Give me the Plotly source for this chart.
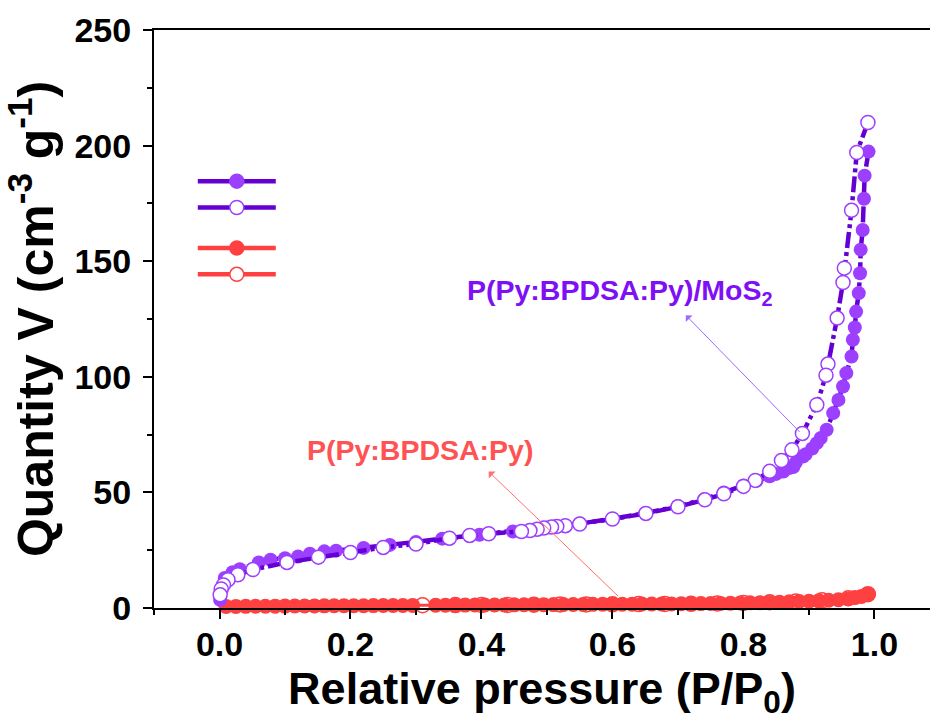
import plotly.graph_objects as go

# ---------------- data ----------------
# P(Py:BPDSA:Py)/MoS2 adsorption (filled)
mos2_ads_p = [0.001, 0.004, 0.008, 0.02, 0.031, 0.06, 0.078, 0.10, 0.12, 0.138, 0.16, 0.178,
              0.22, 0.26, 0.30, 0.34, 0.397, 0.448, 0.50, 0.55, 0.60, 0.65, 0.70, 0.74, 0.77,
              0.80, 0.82, 0.84, 0.85, 0.861, 0.87, 0.876, 0.88, 0.891, 0.895, 0.905, 0.912,
              0.918, 0.927, 0.937, 0.945, 0.952, 0.957, 0.965, 0.967, 0.970, 0.972, 0.976,
              0.978, 0.979, 0.982, 0.984, 0.985, 0.991]
mos2_ads_v = [3.5, 9.0, 13.0, 15.5, 16.8, 19.7, 20.9, 21.5, 22.3, 23.5, 24.5, 24.8,
              26.0, 27.3, 28.6, 30.0, 31.7, 33.1, 34.8, 36.5, 38.6, 41.0, 44.0, 47.0, 50.0,
              53.0, 55.0, 57.0, 58.0, 59.0, 60.5, 61.0, 63.0, 65.5, 66.5, 69.0, 71.3,
              73.5, 77.1, 84.3, 90.0, 95.8, 101.6, 108.8, 116.0, 121.3, 128.2, 136.2,
              144.8, 155.0, 163.5, 177.0, 187.0, 197.4]

# P(Py:BPDSA:Py)/MoS2 desorption (open)
mos2_des_p = [0.99, 0.973, 0.965, 0.954, 0.952, 0.943, 0.929, 0.926, 0.912, 0.89, 0.874,
              0.858, 0.84, 0.818, 0.80, 0.77, 0.741, 0.70, 0.651, 0.60, 0.55, 0.528, 0.515,
              0.507, 0.495, 0.485, 0.474, 0.461, 0.411, 0.382, 0.351, 0.30, 0.25, 0.20,
              0.151, 0.103, 0.051, 0.028, 0.013, 0.006, 0.0026, 0.001]
mos2_des_v = [210.0, 197.0, 172.0, 147.0, 140.8, 125.4, 105.5, 100.7, 87.9, 75.5, 68.4,
              63.8, 59.1, 55.2, 52.6, 49.4, 46.8, 43.8, 40.9, 38.5, 36.3, 35.6, 35.3,
              35.0, 34.6, 34.1, 33.5, 33.1, 32.1, 31.4, 30.2, 27.7, 26.2, 24.0,
              22.0, 19.7, 16.6, 14.4, 12.2, 10.0, 8.2, 5.7]

# P(Py:BPDSA:Py) adsorption (filled)
py_ads_p = [0.01, 0.025, 0.04, 0.055, 0.07, 0.085, 0.10, 0.115, 0.13, 0.145, 0.16, 0.175,
            0.19, 0.205, 0.22, 0.235, 0.25, 0.265, 0.28, 0.295, 0.33, 0.345, 0.36, 0.375,
            0.39, 0.405, 0.42, 0.435, 0.45, 0.465, 0.48, 0.495, 0.51, 0.525, 0.54, 0.555,
            0.57, 0.585, 0.60, 0.615, 0.63, 0.645, 0.66, 0.675, 0.69, 0.705, 0.72, 0.735,
            0.75, 0.765, 0.78, 0.795, 0.81, 0.825, 0.84, 0.855, 0.87, 0.885, 0.90, 0.915,
            0.93, 0.945, 0.96, 0.97, 0.98, 0.99]
py_ads_v = [0.7, 0.7, 0.72, 0.75, 0.78, 0.8, 0.82, 0.85, 0.87, 0.9, 0.92, 0.95,
            0.97, 1.0, 1.0, 1.03, 1.05, 1.08, 1.1, 1.12, 1.18, 1.2, 1.22, 1.25,
            1.27, 1.3, 1.32, 1.35, 1.37, 1.4, 1.42, 1.45, 1.47, 1.5, 1.52, 1.55,
            1.57, 1.6, 1.62, 1.65, 1.67, 1.7, 1.72, 1.75, 1.78, 1.82, 1.86, 1.9,
            1.95, 2.0, 2.08, 2.15, 2.22, 2.3, 2.4, 2.5, 2.65, 2.8, 2.95, 3.1,
            3.35, 3.6, 4.0, 4.5, 5.0, 6.0]

# P(Py:BPDSA:Py) desorption (open)
py_des_p = [0.99, 0.96, 0.92, 0.88, 0.84, 0.80, 0.76, 0.72, 0.68, 0.64, 0.60, 0.56,
            0.52, 0.48, 0.44, 0.40, 0.36, 0.31]
py_des_v = [6.0, 4.2, 3.3, 2.8, 2.5, 2.2, 2.0, 1.8, 1.75, 1.7, 1.6, 1.55,
            1.5, 1.45, 1.35, 1.3, 1.25, 1.2]

x_ticks = [0.0, 0.2, 0.4, 0.6, 0.8, 1.0]
x_ticklabels = ["0.0", "0.2", "0.4", "0.6", "0.8", "1.0"]
y_ticks = [0, 50, 100, 150, 200, 250]

# ---------------- styles ----------------
PURPLE_M = "#9C3FFF"
PURPLE_L = "#6400D2"
PURPLE_T = "#7F10F5"
RED = "#FF4040"
RED_T = "#FF5252"
FONT = "Liberation Sans"
DASHDOT = "16px,4px,4px,4px"

fig = go.Figure()

# red desorption (under)
fig.add_trace(go.Scatter(
    x=py_des_p, y=py_des_v, mode="lines+markers", showlegend=False,
    line=dict(color=RED, width=3),
    marker=dict(symbol="circle", size=15, color="white", line=dict(color=RED, width=1.5)),
    cliponaxis=False))
# red adsorption
fig.add_trace(go.Scatter(
    x=py_ads_p, y=py_ads_v, mode="lines+markers", showlegend=False,
    line=dict(color=RED, width=3),
    marker=dict(symbol="circle", size=15, color=RED),
    cliponaxis=False))
# purple adsorption
fig.add_trace(go.Scatter(
    x=mos2_ads_p, y=mos2_ads_v, mode="lines+markers", showlegend=False,
    line=dict(color=PURPLE_L, width=4.5, dash=DASHDOT),
    marker=dict(symbol="circle", size=14, color=PURPLE_M),
    cliponaxis=False))
# purple desorption
fig.add_trace(go.Scatter(
    x=mos2_des_p, y=mos2_des_v, mode="lines+markers", showlegend=False,
    line=dict(color=PURPLE_L, width=4.5, dash=DASHDOT),
    marker=dict(symbol="circle", size=14, color="white", line=dict(color=PURPLE_M, width=1.5)),
    cliponaxis=False))

# legend entries (solid key lines, unlabeled as in the original)
legend_items = [
    ("mos2", PURPLE_L, PURPLE_M, PURPLE_M),
    ("mos2", PURPLE_L, "white", PURPLE_M),
    ("py", RED, RED, RED),
    ("py", RED, "white", RED),
]
for i, (grp, lc, fc, ec) in enumerate(legend_items):
    fig.add_trace(go.Scatter(
        x=[None], y=[None], mode="lines+markers", name=" ", legendgroup=grp,
        legendrank=i + 1,
        line=dict(color=lc, width=4.5),
        marker=dict(symbol="circle", size=14, color=fc, line=dict(color=ec, width=1.5))))

axis_common = dict(
    showgrid=False, zeroline=False, showline=True, linecolor="black", linewidth=2,
    ticks="outside", ticklen=9, tickwidth=2, tickcolor="black",
)

fig.update_xaxes(
    range=[-0.1, 1.0848], tickvals=x_ticks, ticktext=x_ticklabels,
    mirror=True, ticklabelstandoff=-4,
    tickfont=dict(family=FONT, size=34, color="black", weight="bold"),
    minor=dict(dtick=0.1, tick0=0, ticks="outside", ticklen=5, tickwidth=2, tickcolor="black"),
    title=dict(text="Relative pressure (P/P<sub>0</sub>)",
               font=dict(family=FONT, size=45, color="black", weight="bold"), standoff=19),
    **axis_common)
fig.update_yaxes(
    range=[0, 250], tickvals=y_ticks, ticklabelstandoff=5,
    tickfont=dict(family=FONT, size=34, color="black", weight="bold"),
    minor=dict(dtick=25, tick0=0, ticks="outside", ticklen=5, tickwidth=2, tickcolor="black"),
    title=dict(text="Quantity V (cm<sup>-3</sup> g<sup>-1</sup>)",
               font=dict(family=FONT, size=50, color="black", weight="bold"), standoff=8),
    **axis_common)

# annotations
fig.add_annotation(x=0.611, y=136.7, xref="x", yref="y", showarrow=False,
                   text="P(Py:BPDSA:Py)/MoS<sub>2</sub>",
                   font=dict(family=FONT, size=28.5, color=PURPLE_T, weight="bold"))
fig.add_annotation(x=0.306, y=68.4, xref="x", yref="y", showarrow=False,
                   text="P(Py:BPDSA:Py)",
                   font=dict(family=FONT, size=28.5, color=RED_T, weight="bold"))
fig.add_annotation(x=0.712, y=126.6, ax=0.888, ay=75.5, xref="x", yref="y",
                   axref="x", ayref="y", text="", showarrow=True,
                   arrowhead=1, arrowsize=1.6, arrowwidth=1, arrowcolor="#9A6CFF")
fig.add_annotation(x=0.411, y=59.0, ax=0.611, ay=4.5, xref="x", yref="y",
                   axref="x", ayref="y", text="", showarrow=True,
                   arrowhead=1, arrowsize=1.6, arrowwidth=1, arrowcolor="#FF7070")

fig.update_layout(
    width=930, height=720,
    margin=dict(l=154, r=0, t=30, b=112),
    plot_bgcolor="white", paper_bgcolor="white",
    showlegend=True,
    legend=dict(x=0.05, y=0.77, xanchor="left", yanchor="top",
                bgcolor="rgba(0,0,0,0)", itemwidth=78, tracegroupgap=14,
                traceorder="grouped",
                font=dict(family=FONT, size=18)),
)

fig.write_html("out.html")
